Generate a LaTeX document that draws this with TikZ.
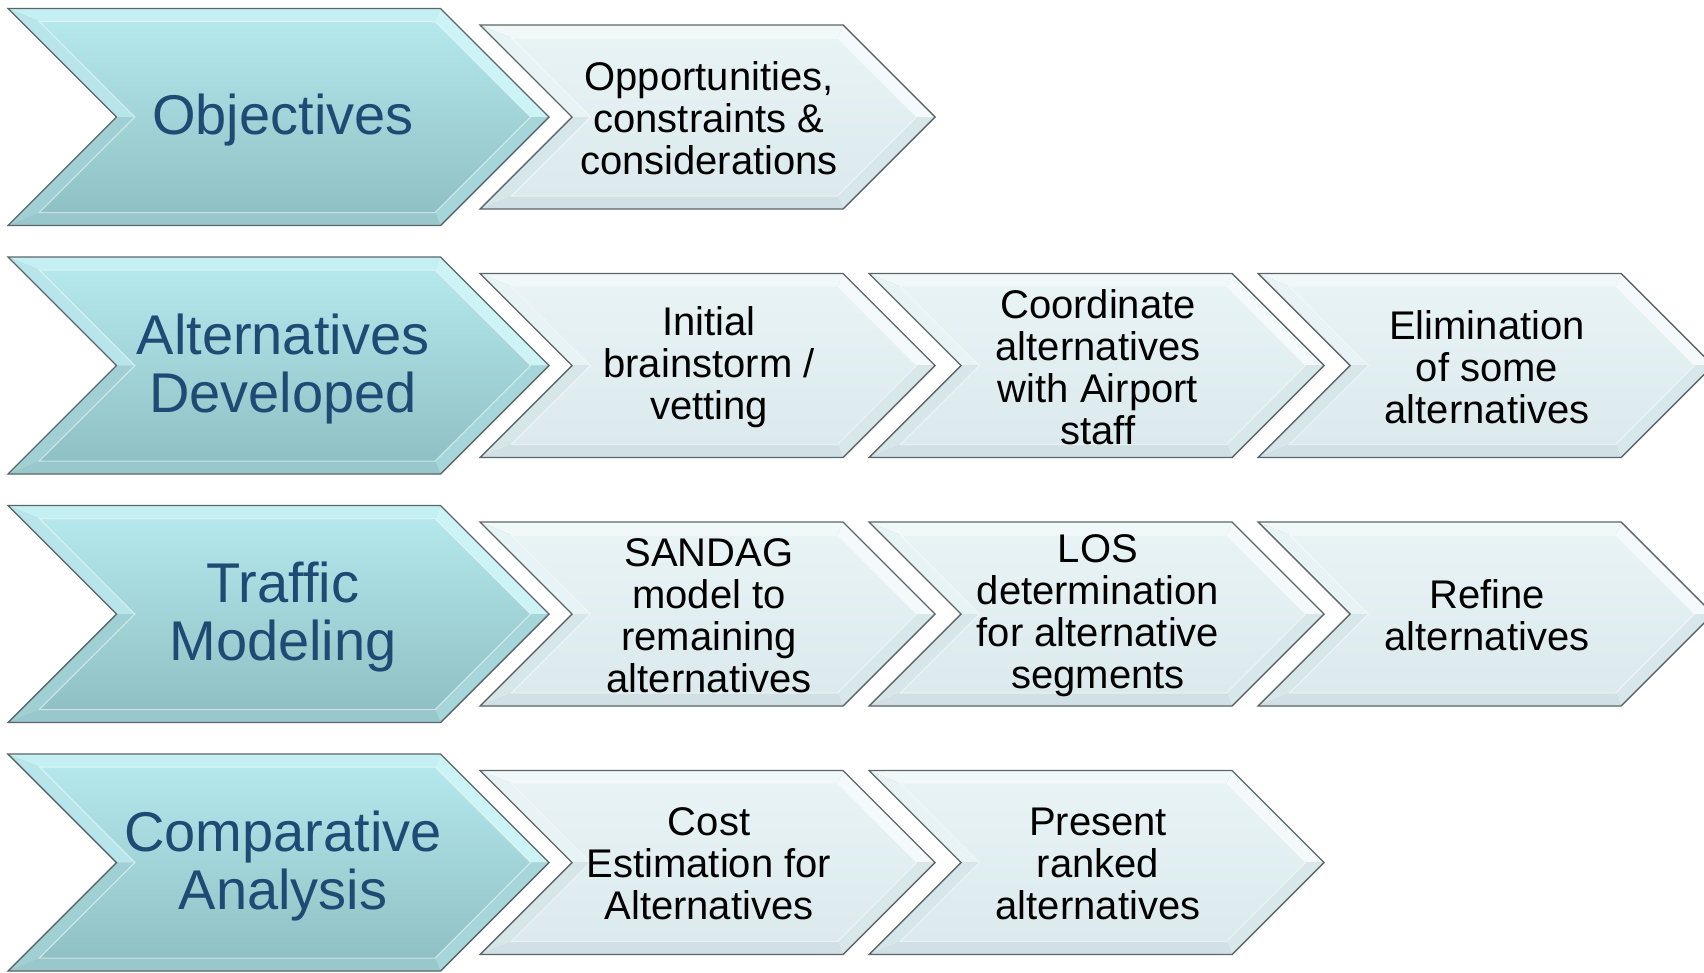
\documentclass[tikz,border=0pt]{standalone}
\usepackage{fontspec}
\setmainfont{Liberation Sans}
\definecolor{titleblue}{HTML}{1F4A74}
\definecolor{bigface1}{HTML}{B4E8EC}
\definecolor{bigface2}{HTML}{8FC0C4}
\definecolor{smallface1}{HTML}{E8F3F5}
\definecolor{smallface2}{HTML}{DCEAED}
\definecolor{edgegray}{HTML}{5C6668}
\tikzset{
  big-top/.style={fill={rgb,255:red,196;green,240;blue,243}},
  big-ru/.style={fill={rgb,255:red,204;green,243;blue,245}},
  big-rl/.style={fill={rgb,255:red,166;green,214;blue,218}},
  big-bot/.style={fill={rgb,255:red,152;green,200;blue,204}},
  big-ll/.style={fill={rgb,255:red,160;green,208;blue,212}},
  big-lu/.style={fill={rgb,255:red,184;green,229;blue,233}},
  big-face/.style={top color=bigface1, bottom color=bigface2},
  small-top/.style={fill={rgb,255:red,240;green,248;blue,249}},
  small-ru/.style={fill={rgb,255:red,244;green,250;blue,251}},
  small-rl/.style={fill={rgb,255:red,216;green,231;blue,234}},
  small-bot/.style={fill={rgb,255:red,208;green,224;blue,228}},
  small-ll/.style={fill={rgb,255:red,214;green,230;blue,233}},
  small-lu/.style={fill={rgb,255:red,232;green,243;blue,245}},
  small-face/.style={top color=smallface1, bottom color=smallface2},
  outline/.style={draw=edgegray, line width=1.4pt, line join=miter},
  innerline/.style={draw=white, draw opacity=.55, line width=1pt},
  bigtext/.style={font=\fontsize{56}{58}\selectfont, text=titleblue, align=center, inner sep=0pt, yshift=-3.5pt},
  smalltext/.style={font=\fontsize{40}{42}\selectfont, text=black, align=center, inner sep=0pt, yshift=-1.5pt},
}
% \chevron{name}{left x}{centre y}{width}{height}{bevel}{palette}
% draws a 45-degree chevron with bevelled edges and a soft shadow
\newcommand\chevron[7]{%
  \pgfmathsetmacro\cyT{#3-#5/2}%
  \pgfmathsetmacro\cyB{#3+#5/2}%
  \pgfmathsetmacro\cxN{#2+#5/2}%
  \pgfmathsetmacro\cxR{#2+#4-#5/2}%
  \pgfmathsetmacro\cxT{#2+#4}%
  \pgfmathsetmacro\cs{#6*1.41421}%
  \coordinate (#1-a) at (#2,\cyT);
  \coordinate (#1-b) at (\cxR,\cyT);
  \coordinate (#1-c) at (\cxT,#3);
  \coordinate (#1-e) at (\cxR,\cyB);
  \coordinate (#1-f) at (#2,\cyB);
  \coordinate (#1-g) at (\cxN,#3);
  \coordinate (#1-ia) at (#2+#6+\cs,\cyT+#6);
  \coordinate (#1-ib) at (\cxR+#6-\cs,\cyT+#6);
  \coordinate (#1-ic) at (\cxT-\cs,#3);
  \coordinate (#1-ie) at (\cxR+#6-\cs,\cyB-#6);
  \coordinate (#1-if) at (#2+#6+\cs,\cyB-#6);
  \coordinate (#1-ig) at (\cxN+\cs,#3);
  \fill[black, opacity=.12, shift={(4,6)}] (#1-a)--(#1-b)--(#1-c)--(#1-e)--(#1-f)--(#1-g)--cycle;
  \fill[black, opacity=.18, shift={(2,3)}] (#1-a)--(#1-b)--(#1-c)--(#1-e)--(#1-f)--(#1-g)--cycle;
  \fill[#7-top] (#1-a)--(#1-b)--(#1-ib)--(#1-ia)--cycle;
  \fill[#7-ru] (#1-b)--(#1-c)--(#1-ic)--(#1-ib)--cycle;
  \fill[#7-rl] (#1-c)--(#1-e)--(#1-ie)--(#1-ic)--cycle;
  \fill[#7-bot] (#1-e)--(#1-f)--(#1-if)--(#1-ie)--cycle;
  \fill[#7-ll] (#1-f)--(#1-g)--(#1-ig)--(#1-if)--cycle;
  \fill[#7-lu] (#1-g)--(#1-a)--(#1-ia)--(#1-ig)--cycle;
  \shade[#7-face] (#1-ia)--(#1-ib)--(#1-ic)--(#1-ie)--(#1-if)--(#1-ig)--cycle;
  \draw[innerline] (#1-ia)--(#1-ib)--(#1-ic)--(#1-ie)--(#1-if)--(#1-ig)--cycle;
  \draw[outline] (#1-a)--(#1-b)--(#1-c)--(#1-e)--(#1-f)--(#1-g)--cycle;
}
\begin{document}
\begin{tikzpicture}[x=1pt,y=-1pt]
\useasboundingbox (0,0) rectangle (1704,972);
\clip (0,0) rectangle (1704,972);
\fill[white] (0,0) rectangle (1704,972);

% row 1: objectives
\chevron{r1}{8}{117}{541}{217}{13}{big}
\node[bigtext] (obj) at (283,117) {Objectives};
\chevron{r1a}{480}{117}{455}{184}{13}{small}
\node[smalltext] (obja) at (709,117) {Opportunities,\\constraints \&\\considerations};

% row 2: alternatives developed
\chevron{r2}{8}{365.5}{541}{217}{13}{big}
\node[bigtext] (alt) at (283,365.5) {Alternatives\\Developed};
\chevron{r2a}{480}{365.5}{455}{184}{13}{small}
\node[smalltext] (alta) at (709,365.5) {Initial\\brainstorm /\\vetting};
\chevron{r2b}{869}{365.5}{455}{184}{13}{small}
\node[smalltext] (altb) at (1098,365.5) {Coordinate\\alternatives\\with Airport\\staff};
\chevron{r2c}{1258}{365.5}{455}{184}{13}{small}
\node[smalltext] (altc) at (1487,365.5) {Elimination\\of some\\alternatives};

% row 3: traffic modeling
\chevron{r3}{8}{614}{541}{217}{13}{big}
\node[bigtext] (trf) at (283,614) {Traffic\\Modeling};
\chevron{r3a}{480}{614}{455}{184}{13}{small}
\node[smalltext] (trfa) at (709,614) {SANDAG\\model to\\remaining\\alternatives};
\chevron{r3b}{869}{614}{455}{184}{13}{small}
\node[smalltext] (trfb) at (1098,614) {LOS\\determination\\for alternative\\segments};
\chevron{r3c}{1258}{614}{455}{184}{13}{small}
\node[smalltext] (trfc) at (1487,614) {Refine\\alternatives};

% row 4: comparative analysis
\chevron{r4}{8}{862.5}{541}{217}{13}{big}
\node[bigtext] (cmp) at (283,862.5) {Comparative\\Analysis};
\chevron{r4a}{480}{862.5}{455}{184}{13}{small}
\node[smalltext] (cmpa) at (709,862.5) {Cost\\Estimation for\\Alternatives};
\chevron{r4b}{869}{862.5}{455}{184}{13}{small}
\node[smalltext] (cmpb) at (1098,862.5) {Present\\ranked\\alternatives};
\end{tikzpicture}
\end{document}
